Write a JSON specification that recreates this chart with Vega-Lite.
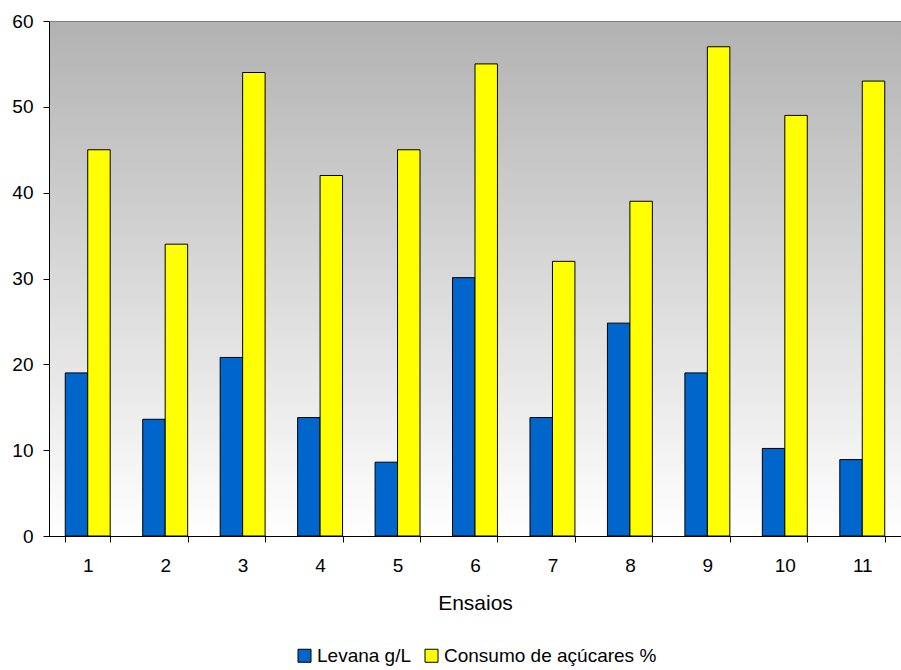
{
  "$schema": "https://vega.github.io/schema/vega-lite/v6.json",
  "width": 852,
  "height": 515,
  "autosize": {"type": "none"},
  "padding": {"left": 49, "top": 21, "right": 0, "bottom": 134},
  "background": "#ffffff",
  "config": {
    "font": "Liberation Sans",
    "view": {
      "stroke": "#808080",
      "strokeWidth": 1,
      "fill": {
        "gradient": "linear",
        "x1": 0, "y1": 0, "x2": 0, "y2": 1,
        "stops": [
          {"offset": 0, "color": "#b2b2b2"},
          {"offset": 0.5, "color": "#d9d9d9"},
          {"offset": 1, "color": "#ffffff"}
        ]
      }
    }
  },
  "data": {
    "values": [
      {"ensaio": "1", "serie": "Levana g/L", "valor": 19.0},
      {"ensaio": "1", "serie": "Consumo de açúcares %", "valor": 45},
      {"ensaio": "2", "serie": "Levana g/L", "valor": 13.6},
      {"ensaio": "2", "serie": "Consumo de açúcares %", "valor": 34},
      {"ensaio": "3", "serie": "Levana g/L", "valor": 20.8},
      {"ensaio": "3", "serie": "Consumo de açúcares %", "valor": 54},
      {"ensaio": "4", "serie": "Levana g/L", "valor": 13.8},
      {"ensaio": "4", "serie": "Consumo de açúcares %", "valor": 42},
      {"ensaio": "5", "serie": "Levana g/L", "valor": 8.6},
      {"ensaio": "5", "serie": "Consumo de açúcares %", "valor": 45},
      {"ensaio": "6", "serie": "Levana g/L", "valor": 30.1},
      {"ensaio": "6", "serie": "Consumo de açúcares %", "valor": 55},
      {"ensaio": "7", "serie": "Levana g/L", "valor": 13.8},
      {"ensaio": "7", "serie": "Consumo de açúcares %", "valor": 32},
      {"ensaio": "8", "serie": "Levana g/L", "valor": 24.8},
      {"ensaio": "8", "serie": "Consumo de açúcares %", "valor": 39},
      {"ensaio": "9", "serie": "Levana g/L", "valor": 19.0},
      {"ensaio": "9", "serie": "Consumo de açúcares %", "valor": 57},
      {"ensaio": "10", "serie": "Levana g/L", "valor": 10.2},
      {"ensaio": "10", "serie": "Consumo de açúcares %", "valor": 49},
      {"ensaio": "11", "serie": "Levana g/L", "valor": 8.9},
      {"ensaio": "11", "serie": "Consumo de açúcares %", "valor": 53}
    ]
  },
  "mark": {"type": "bar", "stroke": "#000000", "strokeWidth": 1},
  "encoding": {
    "x": {
      "field": "ensaio",
      "type": "ordinal",
      "sort": ["1", "2", "3", "4", "5", "6", "7", "8", "9", "10", "11"],
      "scale": {"paddingInner": 0.42, "paddingOuter": 0.21},
      "axis": {
        "title": "Ensaios",
        "titleFontSize": 21,
        "titleFontWeight": "normal",
        "titleColor": "#000000",
        "titlePadding": 17,
        "labelAngle": 0,
        "labelFontSize": 19,
        "labelColor": "#000000",
        "labelPadding": 14,
        "tickBand": "extent",
        "tickSize": 6,
        "tickColor": "#000000",
        "domainColor": "#000000"
      }
    },
    "xOffset": {
      "field": "serie",
      "type": "nominal",
      "sort": ["Levana g/L", "Consumo de açúcares %"],
      "scale": {"paddingInner": 0, "paddingOuter": 0}
    },
    "y": {
      "field": "valor",
      "type": "quantitative",
      "scale": {"domain": [0, 60], "nice": false},
      "axis": {
        "title": null,
        "values": [0, 10, 20, 30, 40, 50, 60],
        "grid": false,
        "labelFontSize": 19,
        "labelColor": "#000000",
        "labelPadding": 10,
        "tickSize": 6,
        "tickColor": "#000000",
        "domainColor": "#000000"
      }
    },
    "fill": {
      "field": "serie",
      "type": "nominal",
      "sort": ["Levana g/L", "Consumo de açúcares %"],
      "scale": {
        "domain": ["Levana g/L", "Consumo de açúcares %"],
        "range": ["#0066cc", "#ffff00"]
      },
      "legend": {
        "title": null,
        "orient": "none",
        "direction": "horizontal",
        "legendX": 246,
        "legendY": 625,
        "symbolType": "square",
        "symbolSize": 169,
        "symbolStrokeColor": "#000000",
        "symbolStrokeWidth": 1,
        "symbolOpacity": 1,
        "labelFontSize": 19,
        "labelLimit": 500,
        "labelColor": "#000000",
        "labelOffset": 3,
        "columnPadding": 10
      }
    }
  }
}
